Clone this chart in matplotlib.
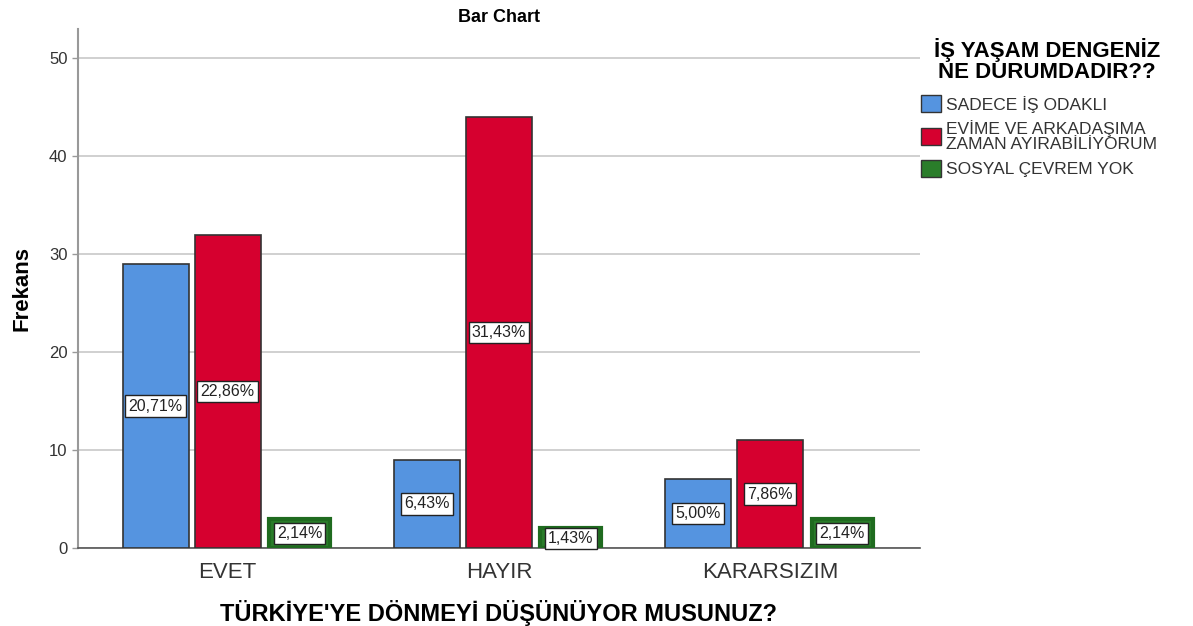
import numpy as np
import matplotlib.pyplot as plt
from matplotlib.patches import Patch

plt.rcParams['font.family'] = ['Liberation Sans', 'DejaVu Sans']

# answers on the x axis and the legend groups
categories = ['EVET', 'HAYIR', 'KARARSIZIM']
series_names = ['SADECE İŞ ODAKLI', 'EVİME VE ARKADAŞIMA\nZAMAN AYIRABİLİYORUM', 'SOSYAL ÇEVREM YOK']
counts = [
    [29, 9, 7],
    [32, 44, 11],
    [3, 2, 3],
]
total = 140
colors = ['#5594e0', '#d6002f', '#2a7d2a']

fig = plt.figure(figsize=(11.93, 6.26), dpi=100)
ax = fig.add_axes([0.0654, 0.1246, 0.7056, 0.8291])

x = np.arange(len(categories))
width = 0.243
step = 0.265

for i, (vals, col) in enumerate(zip(counts, colors)):
    pos = x + (i - 1) * step
    if i == 2:
        ax.bar(pos, vals, width * 0.93, color=col, edgecolor='#1f6b1f', linewidth=3, zorder=3)
    else:
        ax.bar(pos, vals, width, color=col, edgecolor='#333333', linewidth=1.2, zorder=3)
    for p, v in zip(pos, vals):
        pct = f'{v / total * 100:.2f}%'.replace('.', ',')
        ax.text(p, v / 2, pct, ha='center', va='center', fontsize=11.5, color='#222222', zorder=5,
                bbox=dict(boxstyle='square,pad=0.2', fc='white', ec='#222222', lw=1))

ax.set_xlim(-0.551, 2.551)
ax.set_ylim(0, 53)
ax.set_yticks([0, 10, 20, 30, 40, 50])
ax.yaxis.grid(True, color='#c8c8c8', lw=1.2, zorder=0)
ax.set_xticks(x)
ax.set_xticklabels(categories, fontsize=16, color='#333333')
ax.tick_params(axis='x', length=0, pad=10)
ax.tick_params(axis='y', labelsize=12, colors='#333333', length=4, width=1, color='#999999')

for s in ['top', 'right']:
    ax.spines[s].set_visible(False)
ax.spines['left'].set_color('#999999')
ax.spines['left'].set_linewidth(1.5)
ax.spines['bottom'].set_color('#555555')
ax.spines['bottom'].set_linewidth(1.2)

ax.set_title('Bar Chart', fontsize=13, fontweight='bold', pad=5)
ax.set_xlabel("TÜRKİYE'YE DÖNMEYİ DÜŞÜNÜYOR MUSUNUZ?", fontsize=17, fontweight='bold', labelpad=12)
ax.set_ylabel('Frekans', fontsize=16, fontweight='bold', labelpad=12)

# legend heading drawn as its own text, entries below it
fig.text(0.8775, 0.94, 'İŞ YAŞAM DENGENİZ\nNE DURUMDADIR??', ha='center', va='top',
         fontsize=16, fontweight='bold', linespacing=1.05, multialignment='center')

handles = [Patch(facecolor=c, edgecolor='#333333', lw=1) for c in colors]
leg = fig.legend(handles, series_names, loc='upper left', bbox_to_anchor=(0.759, 0.873),
                 frameon=False, fontsize=12.5,
                 handlelength=1.15, handleheight=1.15, handletextpad=0.3, labelspacing=0.45,
                 labelcolor='#333333')
for t in leg.get_texts():
    t.set_linespacing(0.95)

fig.savefig('out.png', dpi=100)
